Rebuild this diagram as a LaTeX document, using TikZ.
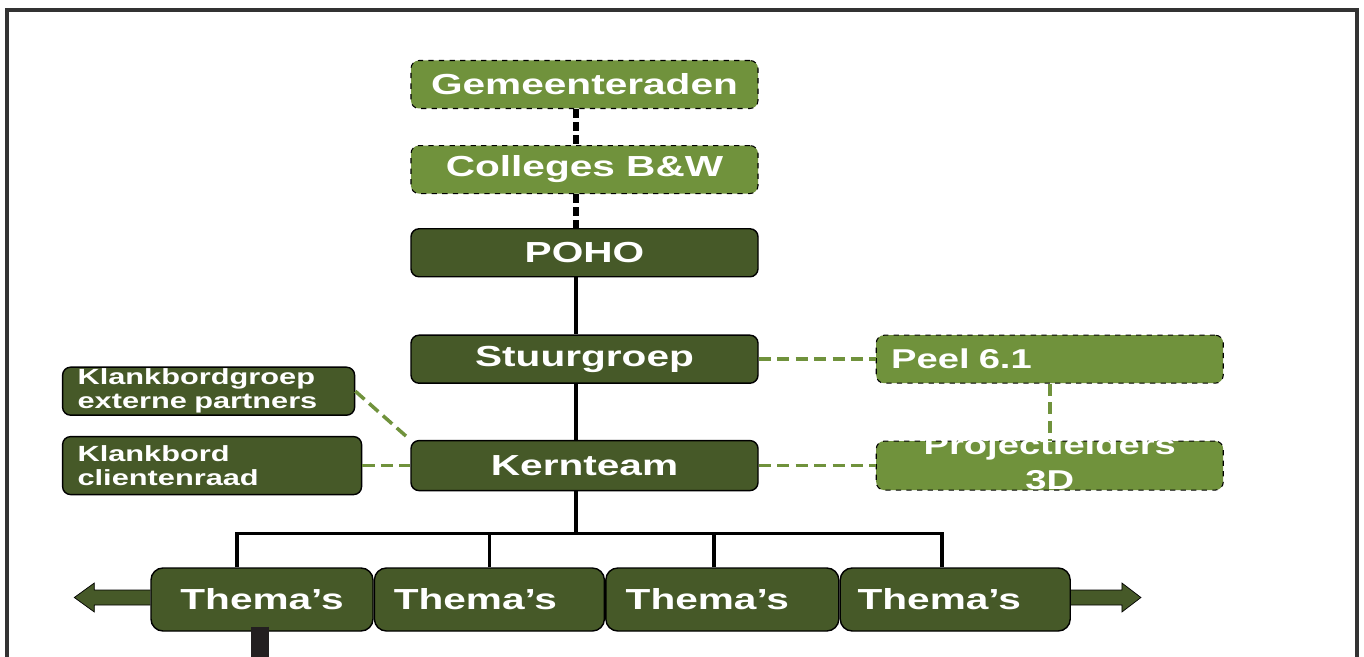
\documentclass[tikz,border=0pt]{standalone}
\usepackage{fontspec}
\newfontfamily\boxfont[FakeStretch=1.4]{Liberation Sans}
\usetikzlibrary{positioning,calc,backgrounds}
\definecolor{pgreen}{RGB}{112,146,60}
\definecolor{dgreen}{RGB}{70,89,40}
\definecolor{barblack}{RGB}{35,31,32}
\newcommand\boxtxt{\boxfont\bfseries\fontsize{16.5}{19}\selectfont}
\newcommand\peeltxt{\boxfont\bfseries\fontsize{15.5}{20}\selectfont}
\newcommand\smalltxt{\boxfont\bfseries\fontsize{12.5}{13.7}\selectfont}

\begin{document}
\begin{tikzpicture}[solidbox/.style={rectangle,draw=black,thick,fill=dgreen,rounded corners=0.16cm,text=white,font=\boxtxt,minimum width=6.94cm,minimum height=0.96cm,inner sep=0pt},
loosebox/.style={solidbox,fill=pgreen,dashed,semithick},
themebox/.style={solidbox,rounded corners=0.24cm,minimum height=1.26cm},
tree/.style={line width=2pt,black},
blackdash/.style={line width=3pt,black,dash pattern=on 5pt off 2.5pt},
greendash/.style={line width=2pt,pgreen,dash pattern=on 7pt off 3.5pt},
fatarrow/.style={fill=dgreen,draw=black,thin}]

\useasboundingbox (0,0) rectangle (27.28,-13.14);
\clip (0,0) rectangle (27.28,-13.14);
\draw[line width=1.8pt,black!80] (0.14,-0.2) rectangle (27.14,-14);

%%%%%%%%%%%%%%%%%%%%%% BESTUUR

\node (GR) [loosebox] at (11.69,-1.69) {Gemeenteraden};
\node (CBW) [loosebox,below=0.72cm of GR] {Colleges B\&W};
\node (POHO) [solidbox,below=0.68cm of CBW] {POHO};
\node (SG) [solidbox,below=1.14cm of POHO] {Stuurgroep};
\node (KT) [solidbox,below=1.12cm of SG,minimum height=1cm] {Kernteam};

\node (P61) [loosebox,right=2.34cm of SG,text width=6.34cm,inner xsep=0.3cm,align=left,font=\peeltxt] {Peel 6.1};
\node (PL3D) [loosebox,right=2.34cm of KT,minimum height=0.98cm,font=\peeltxt] {\smash{\raisebox{-0.12cm}{\begin{tabular}{@{}c@{}}Projectleiders\\3D\end{tabular}}}};

\node (KBC) [solidbox,left=0.96cm of KT,minimum width=5.98cm,minimum height=1.16cm,text width=5.38cm,inner xsep=0.3cm,align=left,font=\smalltxt] {Klankbord\\clientenraad};
\node (KBG) [solidbox,above=0.4cm of KBC.north west,anchor=south west,minimum width=5.84cm,text width=5.24cm,inner xsep=0.3cm,align=left,font=\smalltxt] {Klankbordgroep\\externe partners};

\draw[blackdash] ([xshift=-0.17cm]GR.south) -- ([xshift=-0.17cm]CBW.north);
\draw[blackdash] ([xshift=-0.17cm]CBW.south) -- ([xshift=-0.17cm]POHO.north);
\draw[tree] ([xshift=-0.17cm]POHO.south) -- ([xshift=-0.17cm]SG.north);
\draw[tree] ([xshift=-0.17cm]SG.south) -- ([xshift=-0.17cm]KT.north);

\draw[greendash] (SG.east) -- (P61.west);
\draw[greendash] (KT.east) -- (PL3D.west);
\draw[greendash] (P61.south) -- (PL3D.north);
\draw[greendash] (KBG.east) -- (KT.north west);
\draw[greendash] (KBC.east) -- (KBC.east -| KT.west);

%%%%%%%%%%%%%%%%%%%%%% THEMA'S

\node (T1) [themebox,minimum width=4.44cm] at (5.24,-11.99) {Thema’s};
\node (T2) [themebox,right=0pt of T1,minimum width=4.6cm] {Thema’s\kern0.56cm};
\node (T3) [themebox,right=0pt of T2,minimum width=4.66cm] {Thema’s\kern0.6cm};
\node (T4) [themebox,right=0pt of T3,minimum width=4.6cm] {Thema’s\kern0.64cm};

\draw[tree] ([xshift=-0.17cm]KT.south) -- ++(0,-0.84) coordinate (J);
\foreach \t/\dx in {T1/-0.5,T2/0,T3/-0.17,T4/-0.26}
  \draw[tree] ([xshift=\dx cm]\t.north) |- (J);

\begin{scope}[on background layer]
\draw[fatarrow] ([yshift=0.19cm]T1.west) -- ++(-1.12,0) -- ++(0,0.14) -- ++(-0.4,-0.29) -- ++(0.4,-0.29) -- ++(0,0.14) -- ++(1.12,0);
\draw[fatarrow] ([yshift=0.19cm]T4.east) -- ++(1.02,0) -- ++(0,0.14) -- ++(0.38,-0.29) -- ++(-0.38,-0.29) -- ++(0,0.14) -- ++(-1.02,0);
\end{scope}

\draw[line width=0.36cm,barblack] ([xshift=-0.04cm,yshift=0.1cm]T1.south) -- ++(0,-1);

\end{tikzpicture}
\end{document}
